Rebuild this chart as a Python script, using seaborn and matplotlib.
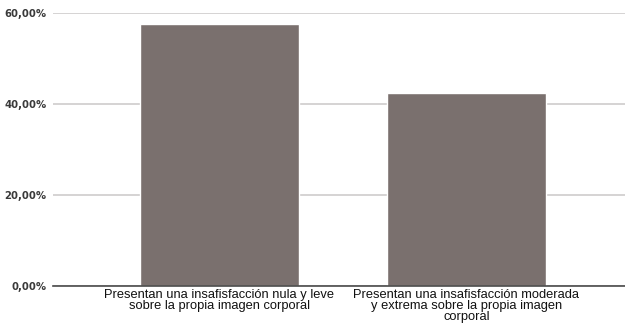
import matplotlib
matplotlib.use("Agg")
import matplotlib.pyplot as plt
import seaborn as sns
import pandas as pd
from matplotlib.ticker import FuncFormatter

categories = [
    "Presentan una insafisfacción nula y leve\nsobre la propia imagen corporal",
    "Presentan una insafisfacción moderada\ny extrema sobre la propia imagen\ncorporal",
]
values = [57.6, 42.4]
y_ticks = [0, 20, 40, 60]

df = pd.DataFrame({"categoria": categories, "porcentaje": values})

sns.set_theme(style="white")
plt.rcParams["font.family"] = ["Liberation Sans", "DejaVu Sans"]

fig = plt.figure(figsize=(6.25, 3.25), dpi=100)
ax = fig.add_axes([53 / 625, 1 - 286 / 325, 572 / 625, (286 - 13) / 325])

sns.barplot(data=df, x="categoria", y="porcentaje", color="#7a706e",
            saturation=1, width=0.645, ax=ax)

ax.set_ylim(0, 60)
ax.set_xlim(-0.674, 1.642)
ax.set_yticks(y_ticks)
ax.yaxis.set_major_formatter(FuncFormatter(lambda v, _: f"{v:.2f}".replace(".", ",") + "%"))
ax.grid(axis="y", color="#cac8c8", linewidth=1.1)
ax.set_axisbelow(True)
for s in ["top", "right", "left"]:
    ax.spines[s].set_visible(False)
ax.spines["bottom"].set_color("#4a4a4a")
ax.spines["bottom"].set_linewidth(1.2)
ax.set_xlabel("")
ax.set_ylabel("")
ax.tick_params(axis="y", length=0, pad=4.5, labelsize=7.3)
ax.tick_params(axis="x", length=0, pad=2.5, labelsize=9.3)
for t in ax.get_yticklabels():
    t.set_family(["DejaVu Sans"])
    t.set_fontweight("bold")
    t.set_color("#3a3a3a")
for t in ax.get_xticklabels():
    t.set_color("#111111")
    t.set_linespacing(0.88)

fig.savefig("out.png", dpi=100, facecolor="white")
